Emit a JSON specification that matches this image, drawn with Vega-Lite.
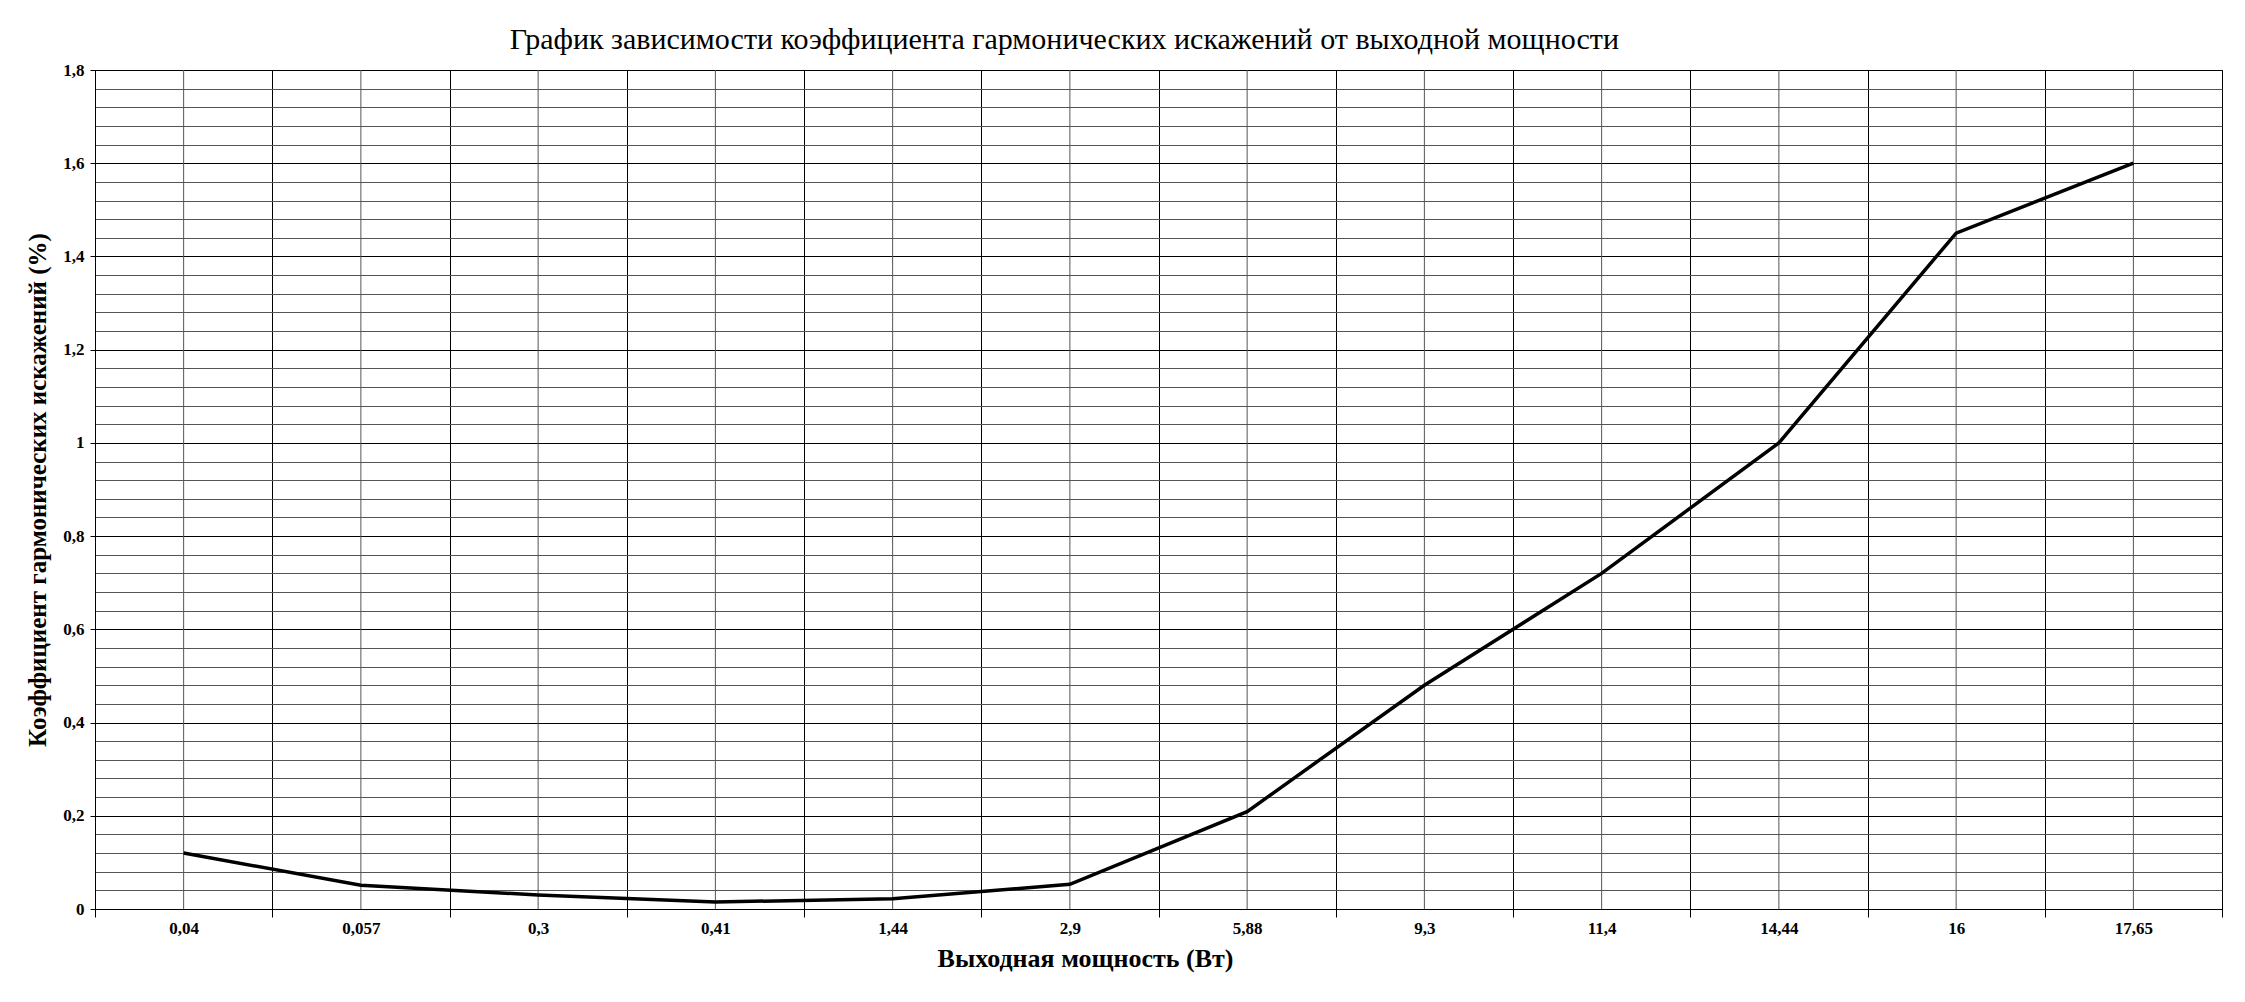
{
  "$schema": "https://vega.github.io/schema/vega-lite/v6.json",
  "width": 2127,
  "height": 839,
  "autosize": "none",
  "padding": {"left": 95, "top": 70, "right": 23, "bottom": 93},
  "background": "white",
  "title": {
    "text": "График зависимости коэффициента гармонических искажений от выходной мощности",
    "font": "Liberation Serif",
    "fontSize": 30,
    "fontWeight": "normal",
    "color": "black",
    "anchor": "start",
    "dx": 484,
    "offset": 6
  },
  "config": {"view": {"stroke": "black", "strokeWidth": 1}},
  "data": {
    "values": [
      {"power": "0,04", "thd": 0.12},
      {"power": "0,057", "thd": 0.051},
      {"power": "0,3", "thd": 0.03},
      {"power": "0,41", "thd": 0.015},
      {"power": "1,44", "thd": 0.022},
      {"power": "2,9", "thd": 0.053},
      {"power": "5,88", "thd": 0.209},
      {"power": "9,3", "thd": 0.48},
      {"power": "11,4", "thd": 0.72},
      {"power": "14,44", "thd": 1.0},
      {"power": "16", "thd": 1.45},
      {"power": "17,65", "thd": 1.6}
    ]
  },
  "encoding": {
    "x": {
      "field": "power",
      "type": "ordinal",
      "sort": null,
      "scale": {"paddingInner": 0, "paddingOuter": 0},
      "axis": {
        "title": "Выходная мощность (Вт)",
        "titleFont": "Liberation Serif",
        "titleFontSize": 26,
        "titleFontWeight": "bold",
        "titleColor": "black",
        "titlePadding": 9,
        "titleX": 990,
        "labelAngle": 0,
        "labelFont": "Liberation Serif",
        "labelFontSize": 17,
        "labelFontWeight": "bold",
        "labelColor": "black",
        "labelPadding": 3,
        "tickBand": "extent",
        "tickSize": 8,
        "tickColor": "black",
        "grid": true,
        "gridColor": "black",
        "gridWidth": 1,
        "gridOpacity": 1,
        "domainColor": "black"
      }
    }
  },
  "layer": [
    {
      "mark": {"type": "rule", "color": "#555555", "strokeWidth": 1},
      "encoding": {}
    },
    {
      "mark": {"type": "line", "color": "black", "strokeWidth": 3.5},
      "encoding": {
        "y": {
          "field": "thd",
          "type": "quantitative",
          "scale": {"domain": [0, 1.8], "nice": false, "zero": true},
          "axis": {
            "title": "Коэффициент гармонических искажений (%)",
            "titleFont": "Liberation Serif",
            "titleFontSize": 25,
            "titleFontWeight": "bold",
            "titleColor": "black",
            "titlePadding": 12,
            "values": [0, 0.04, 0.08, 0.12, 0.16, 0.2, 0.24, 0.28, 0.32, 0.36, 0.4, 0.44, 0.48, 0.52, 0.56, 0.6, 0.64, 0.68, 0.72, 0.76, 0.8, 0.84, 0.88, 0.92, 0.96, 1, 1.04, 1.08, 1.12, 1.16, 1.2, 1.24, 1.28, 1.32, 1.36, 1.4, 1.44, 1.48, 1.52, 1.56, 1.6, 1.64, 1.68, 1.72, 1.76, 1.8],
            "labelExpr": "abs(datum.value*5 - round(datum.value*5)) < 0.000001 ? replace(format(datum.value, '.1~f'), '.', ',') : ''",
            "labelFont": "Liberation Serif",
            "labelFontSize": 17,
            "labelFontWeight": "bold",
            "labelColor": "black",
            "labelPadding": 6,
            "tickSize": 5,
            "tickColor": "black",
            "tickOpacity": {"condition": {"test": "abs(datum.value*5 - round(datum.value*5)) < 0.000001", "value": 1}, "value": 0},
            "grid": true,
            "gridColor": {"condition": {"test": "abs(datum.value*5 - round(datum.value*5)) < 0.000001", "value": "#000000"}, "value": "#555555"},
            "gridWidth": 1,
            "gridOpacity": 1,
            "domainColor": "black"
          }
        }
      }
    }
  ]
}
